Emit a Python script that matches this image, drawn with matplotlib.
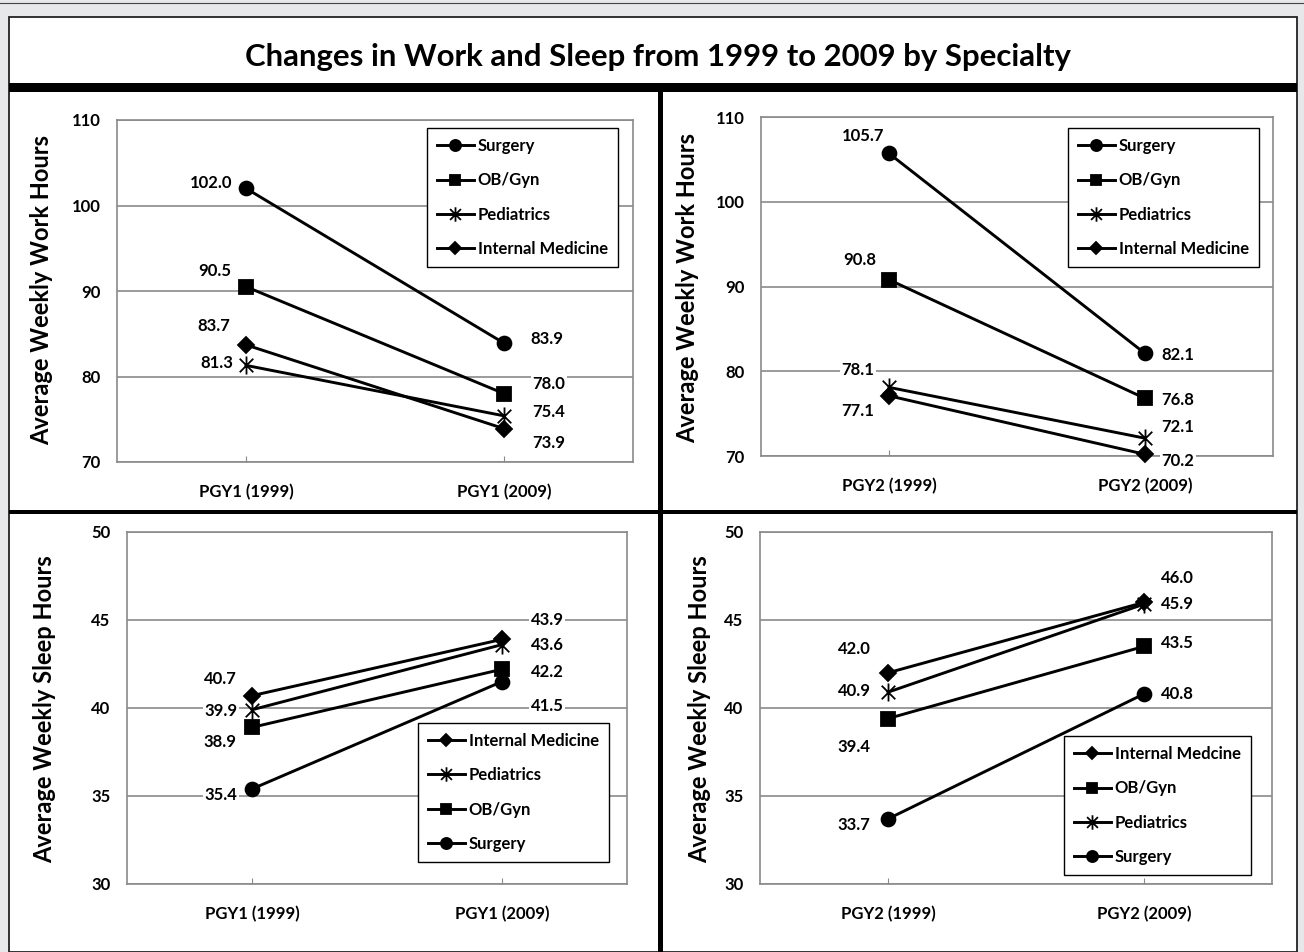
import matplotlib
matplotlib.use("Agg")
import matplotlib.pyplot as plt
from matplotlib.lines import Line2D
from matplotlib.patches import Rectangle
from matplotlib.path import Path

plt.rcParams['font.family'] = ['Lato', 'DejaVu Sans']
plt.rcParams['font.weight'] = 'bold'

W, H = 1304, 952

title = "Changes in Work and Sleep from 1999 to 2009 by Specialty"

# --- data ---
pgy1_cats = ["PGY1 (1999)", "PGY1 (2009)"]
pgy2_cats = ["PGY2 (1999)", "PGY2 (2009)"]

work1_series = ["Surgery", "OB/Gyn", "Pediatrics", "Internal Medicine"]
work1_values = [[102.0, 83.9], [90.5, 78.0], [81.3, 75.4], [83.7, 73.9]]

work2_series = ["Surgery", "OB/Gyn", "Pediatrics", "Internal Medicine"]
work2_values = [[105.7, 82.1], [90.8, 76.8], [78.1, 72.1], [77.1, 70.2]]

sleep1_series = ["Internal Medicine", "Pediatrics", "OB/Gyn", "Surgery"]
sleep1_values = [[40.7, 43.9], [39.9, 43.6], [38.9, 42.2], [35.4, 41.5]]

sleep2_series = ["Internal Medcine", "OB/Gyn", "Pediatrics", "Surgery"]
sleep2_values = [[42.0, 46.0], [39.4, 43.5], [40.9, 45.9], [33.7, 40.8]]

work_ticks = [70, 80, 90, 100, 110]
sleep_ticks = [30, 35, 40, 45, 50]

# --- label offsets in pixels (style, same order as series) ---
work1_offsets = [[(-35, 5), (43, 4)], [(-31, 16), (45, 10)],
                 [(-29, 2), (45, 4)], [(-32, 19), (45, -14)]]
work2_offsets = [[(-26, 17), (33, -2)], [(-29, 20), (33, -2)],
                 [(-31, 17), (33, 11)], [(-31, -15), (33, -7)]]
sleep1_offsets = [[(-32, 17), (45, 19)], [(-31, -1), (45, 0)],
                  [(-32, -15), (45, -3)], [(-31, -6), (45, -24)]]
sleep2_offsets = [[(-34, 24), (33, 24)], [(-34, -28), (33, 3)],
                  [(-34, 1), (33, 0)], [(-34, -6), (33, 0)]]

star = Path([(0, -1), (0, 1), (-0.75, -0.75), (0.75, 0.75), (-0.75, 0.75), (0.75, -0.75)],
            [Path.MOVETO, Path.LINETO, Path.MOVETO, Path.LINETO, Path.MOVETO, Path.LINETO])
markers = {"Surgery": ('o', 10), "OB/Gyn": ('s', 9.5), "Pediatrics": (star, 13),
           "Internal Medicine": ('D', 8), "Internal Medcine": ('D', 8)}

grid_col = '#8a8a8a'

fig = plt.figure(figsize=(W / 100, H / 100), dpi=100)
fig.patch.set_facecolor('#e7e8ea')


def fx(x):
    return x / W


def fy(y):
    return 1 - y / H


# page frame (behind the axes)
fig.add_artist(Line2D([0, 1], [fy(3), fy(3)], color='#444444', lw=0.8, zorder=-5))
fig.add_artist(Rectangle((fx(9), 0), fx(1297) - fx(9), fy(17), facecolor='white',
                         edgecolor='#222222', lw=1.3, zorder=-5))
fig.add_artist(Rectangle((fx(9), fy(92)), fx(1297) - fx(9), fy(83) - fy(92),
                         facecolor='black', edgecolor='none', zorder=-4))
fig.add_artist(Rectangle((fx(658), 0), fx(5), fy(92), facecolor='black', edgecolor='none',
                         zorder=-4))
fig.add_artist(Rectangle((fx(9), fy(514)), fx(1297) - fx(9), fy(510) - fy(514),
                         facecolor='black', edgecolor='none', zorder=-4))
fig.text(fx(658), fy(57), title, ha='center', va='center', fontsize=22.4, fontweight='bold')


def panel(box, cats, series, values, offsets, ticks, ylabel, ylabel_xy, legend_xy):
    l, t, r, b = box
    ax = fig.add_axes([fx(l), fy(b), fx(r - l), fy(t) - fy(b)])
    ax.patch.set_alpha(0)
    xs = list(range(len(cats)))
    for name, vals, offs in zip(series, values, offsets):
        m, ms = markers[name]
        ax.plot(xs, vals, color='black', lw=2.1, marker=m, ms=ms, mec='black', mfc='black',
                mew=1.3, label=name, zorder=3, clip_on=False)
        for xi, v, (dx, dy) in zip(xs, vals, offs):
            ax.annotate(f"{v:.1f}", (xi, v), xytext=(dx, dy), textcoords='offset pixels',
                        ha='center', va='center', fontsize=12, fontweight='bold',
                        bbox=dict(fc='white', ec='none', pad=1), zorder=4)
    ax.set_xlim(-0.5, len(cats) - 0.5)
    ax.set_ylim(ticks[0], ticks[-1])
    ax.set_yticks(ticks)
    ax.set_xticks(xs)
    ax.set_xticklabels(cats)
    ax.yaxis.grid(True, color=grid_col, lw=1.2)
    ax.set_axisbelow(True)
    for s in ax.spines.values():
        s.set_color(grid_col)
        s.set_linewidth(1.2)
    ax.tick_params(axis='y', length=0, pad=12, labelsize=12)
    ax.tick_params(axis='x', direction='in', length=4, color=grid_col, pad=16, labelsize=12)
    fig.text(fx(ylabel_xy[0]), fy(ylabel_xy[1]), ylabel, rotation=90, ha='center',
             va='center', fontsize=17, fontweight='bold')
    leg = ax.legend(loc='upper left', bbox_to_anchor=(fx(legend_xy[0]), fy(legend_xy[1])),
                    bbox_transform=fig.transFigure, frameon=True, fancybox=False,
                    edgecolor='black', fontsize=12, handlelength=2.2, handletextpad=0.25,
                    labelspacing=1.1, borderpad=0.6, borderaxespad=0, markerscale=0.8,
                    framealpha=1)
    leg.get_frame().set_linewidth(1.0)
    return ax


panel((117, 120, 633, 462), pgy1_cats, work1_series, work1_values, work1_offsets,
      work_ticks, "Average Weekly Work Hours", (42, 290), (427, 128))
panel((761, 117, 1273, 456), pgy2_cats, work2_series, work2_values, work2_offsets,
      work_ticks, "Average Weekly Work Hours", (688, 288), (1068, 128))
panel((127, 532, 627, 884), pgy1_cats, sleep1_series, sleep1_values, sleep1_offsets,
      sleep_ticks, "Average Weekly Sleep Hours", (45, 709), (418, 723))
panel((760, 532, 1272, 884), pgy2_cats, sleep2_series, sleep2_values, sleep2_offsets,
      sleep_ticks, "Average Weekly Sleep Hours", (700, 709), (1064, 736))

fig.savefig("out.png", dpi=100, facecolor=fig.get_facecolor())
